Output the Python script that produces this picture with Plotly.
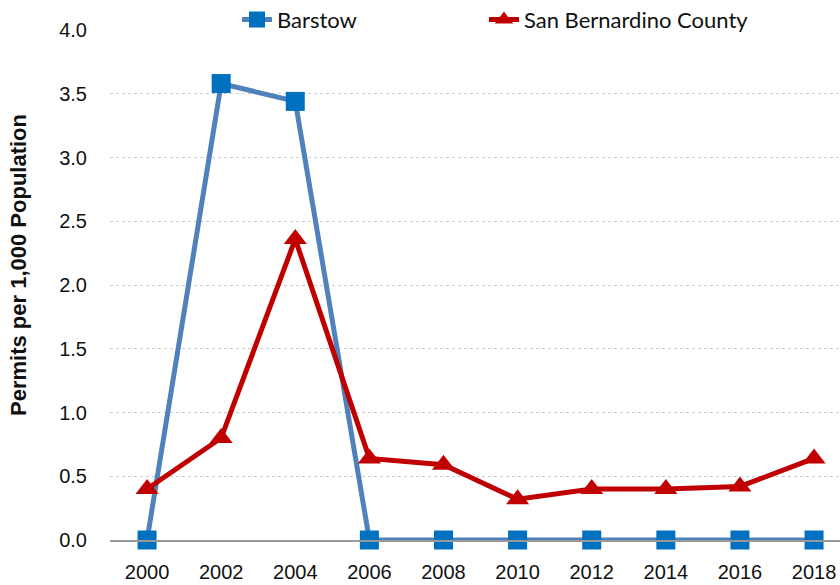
import plotly.graph_objects as go

years = ["2000", "2002", "2004", "2006", "2008", "2010", "2012", "2014", "2016", "2018"]
barstow = [0.0, 3.58, 3.44, 0.0, 0.0, 0.0, 0.0, 0.0, 0.0, 0.0]
sb_county = [0.40, 0.80, 2.36, 0.64, 0.59, 0.32, 0.40, 0.40, 0.42, 0.64]
y_ticks = [0, 0.5, 1.0, 1.5, 2.0, 2.5, 3.0, 3.5, 4.0]
y_labels = ["0.0", "0.5", "1.0", "1.5", "2.0", "2.5", "3.0", "3.5", "4.0"]

tick_font = dict(family="Liberation Sans Narrow, Arial Narrow, Liberation Sans, Arial", size=20, color="#111111")
legend_font = dict(family="Lato, Open Sans, sans-serif", size=22, color="#111111")

fig = go.Figure()
fig.add_trace(go.Scatter(
    x=years, y=barstow, name="Barstow", mode="lines+markers",
    line=dict(color="#4F81BD", width=5),
    marker=dict(symbol="square", size=19, color="#0070C0"),
    cliponaxis=False, legend="legend",
))
fig.add_trace(go.Scatter(
    x=years, y=sb_county, name="San Bernardino County", mode="lines+markers",
    line=dict(color="#C00000", width=5),
    marker=dict(symbol="triangle-up", size=20, color="#C00000"),
    cliponaxis=False, legend="legend2",
))

fig.update_layout(
    width=840, height=585,
    margin=dict(l=110, r=0, t=30, b=45, autoexpand=False),
    paper_bgcolor="white", plot_bgcolor="white",
    showlegend=True,
    legend=dict(x=(237 - 110) / 730, xanchor="left", y=1.02, yanchor="middle",
                font=legend_font, bgcolor="rgba(0,0,0,0)", itemsizing="trace"),
    legend2=dict(x=(484 - 110) / 730, xanchor="left", y=1.02, yanchor="middle",
                 font=legend_font, bgcolor="rgba(0,0,0,0)", itemsizing="trace"),
    xaxis=dict(type="category", range=[-0.5, 9.35], showgrid=False,
               showline=True, linecolor="#999999", linewidth=2, automargin=False,
               ticks="", tickfont=tick_font, ticklabelstandoff=13, zeroline=False),
    yaxis=dict(range=[0, 4.0], tickvals=y_ticks, ticktext=y_labels, automargin=False,
               showgrid=True, gridcolor="#cccccc", griddash="dot", gridwidth=1,
               zeroline=False, showline=False, ticks="",
               tickfont=tick_font, ticklabelstandoff=22),
    annotations=[dict(text="<b>Permits per 1,000 Population</b>", textangle=-90,
                      xref="paper", yref="paper", x=(18 - 110) / 730, y=(540 - 265) / 510,
                      xanchor="center", yanchor="middle", showarrow=False,
                      font=dict(family="Liberation Sans Narrow, Arial Narrow, Liberation Sans, Arial", size=22, color="#111111"))],
)

fig.write_html("out.html", config={"displayModeBar": False},
               post_script="document.body.style.margin='0px';")
